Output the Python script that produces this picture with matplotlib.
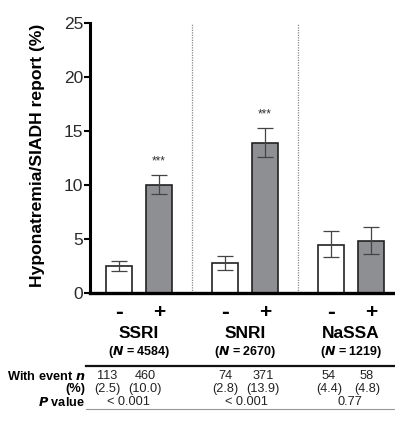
import matplotlib
matplotlib.use("Agg")
import matplotlib.pyplot as plt
import matplotlib.transforms as mtransforms
import numpy as np

plt.rcParams['font.family'] = ['Liberation Sans', 'DejaVu Sans']

groups = ["SSRI", "SNRI", "NaSSA"]
group_n = ["4584", "2670", "1219"]
signs = ["-", "+"]
values = [[2.5, 10.0], [2.8, 13.9], [4.4, 4.8]]
ci_low = [[2.05, 9.2], [2.15, 12.6], [3.3, 3.6]]
ci_high = [[2.95, 10.9], [3.45, 15.3], [5.7, 6.1]]
event_n = [["113", "460"], ["74", "371"], ["54", "58"]]
event_pct = [["(2.5)", "(10.0)"], ["(2.8)", "(13.9)"], ["(4.4)", "(4.8)"]]
p_values = ["< 0.001", "< 0.001", "0.77"]
signif = ["***", "***", ""]
yticks = [0, 5, 10, 15, 20, 25]

W, H = 395, 421
fig = plt.figure(figsize=(W / 100, H / 100), dpi=100)
ax = fig.add_axes([90 / W, 1 - 293 / H, (395 - 90) / W, (293 - 22.7) / H])

off = 0.19
bw = 0.245
fills = ["white", "#8e8f93"]
for g in range(3):
    for s in range(2):
        x = g + (s - 0.5) * 2 * off
        v = values[g][s]
        ax.bar(x, v, width=bw, color=fills[s], edgecolor="#222222", linewidth=1.2, zorder=2)
        ax.errorbar(x, v, yerr=[[v - ci_low[g][s]], [ci_high[g][s] - v]], fmt="none",
                    ecolor="#444444", elinewidth=0.9, capsize=5.5, capthick=0.9, zorder=3)
        if s == 1 and signif[g]:
            ax.text(x, ci_high[g][s] + 0.7, signif[g], ha="center", va="bottom",
                    fontsize=8.5, color="#333333")

for xd in [0.5, 1.5]:
    ax.plot([xd, xd], [0, 25], linestyle=(0, (1, 1)), color="#888888", lw=0.9, zorder=1,
            clip_on=False)

ax.set_xlim(-0.462, 2.415)
ax.set_ylim(0, 25)
ax.set_yticks(yticks)
ax.set_xticks([])
for sp in ["top", "right"]:
    ax.spines[sp].set_visible(False)
ax.spines["left"].set_linewidth(2.2)
ax.spines["bottom"].set_linewidth(2.4)
ax.tick_params(axis="y", length=4, width=1.5, pad=1, labelsize=12.5, labelcolor="#2a2a2a")
ax.set_ylabel("Hyponatremia/SIADH report (%)", fontsize=12.6, fontweight="bold")
ax.yaxis.set_label_coords(-0.148, 0.51)

tr = mtransforms.blended_transform_factory(ax.transData, fig.transFigure)
def fy(px):
    return 1 - px / H
def dx(px):
    return (px - 139) / 106.0

for g in range(3):
    for s in range(2):
        x = g + (s - 0.5) * 2 * off
        ax.text(x, fy(312), signs[s], transform=tr, ha="center", va="center",
                fontsize=15 if s else 17, fontweight="bold")
    ax.text(g, fy(334), groups[g], transform=tr, ha="center", va="center",
            fontsize=12.5, fontweight="bold")
    ax.text(g, fy(352), "($\\boldsymbol{N}$ = " + group_n[g] + ")", transform=tr,
            ha="center", va="center", fontsize=9, fontweight="bold")

num_x = [[107, 145], [225, 263], [329, 367]]
for g in range(3):
    for s in range(2):
        ax.text(dx(num_x[g][s]), fy(376), event_n[g][s], transform=tr, ha="center",
                va="center", fontsize=9.2, color="#222222")
        ax.text(dx(num_x[g][s]), fy(389), event_pct[g][s], transform=tr, ha="center",
                va="center", fontsize=9.2, color="#222222")
    ax.text(dx((num_x[g][0] + num_x[g][1]) / 2 + 2), fy(402), p_values[g], transform=tr,
            ha="center", va="center", fontsize=9.2, color="#222222")

fig.text(85 / W, fy(376), "With event $\\boldsymbol{n}$", ha="right", va="center",
         fontsize=9.2, fontweight="bold")
fig.text(85 / W, fy(389), "(%)", ha="right", va="center", fontsize=9.2, fontweight="bold")
fig.text(85 / W, fy(402), "$\\boldsymbol{P}$ value", ha="right", va="center",
         fontsize=9.2, fontweight="bold")

fig.add_artist(plt.Line2D([86 / W, 1.0], [fy(366), fy(366)], color="#111111", lw=1.6))
fig.add_artist(plt.Line2D([86 / W, 1.0], [fy(409), fy(409)], color="#999999", lw=0.8))

fig.savefig("out.png", dpi=100)
